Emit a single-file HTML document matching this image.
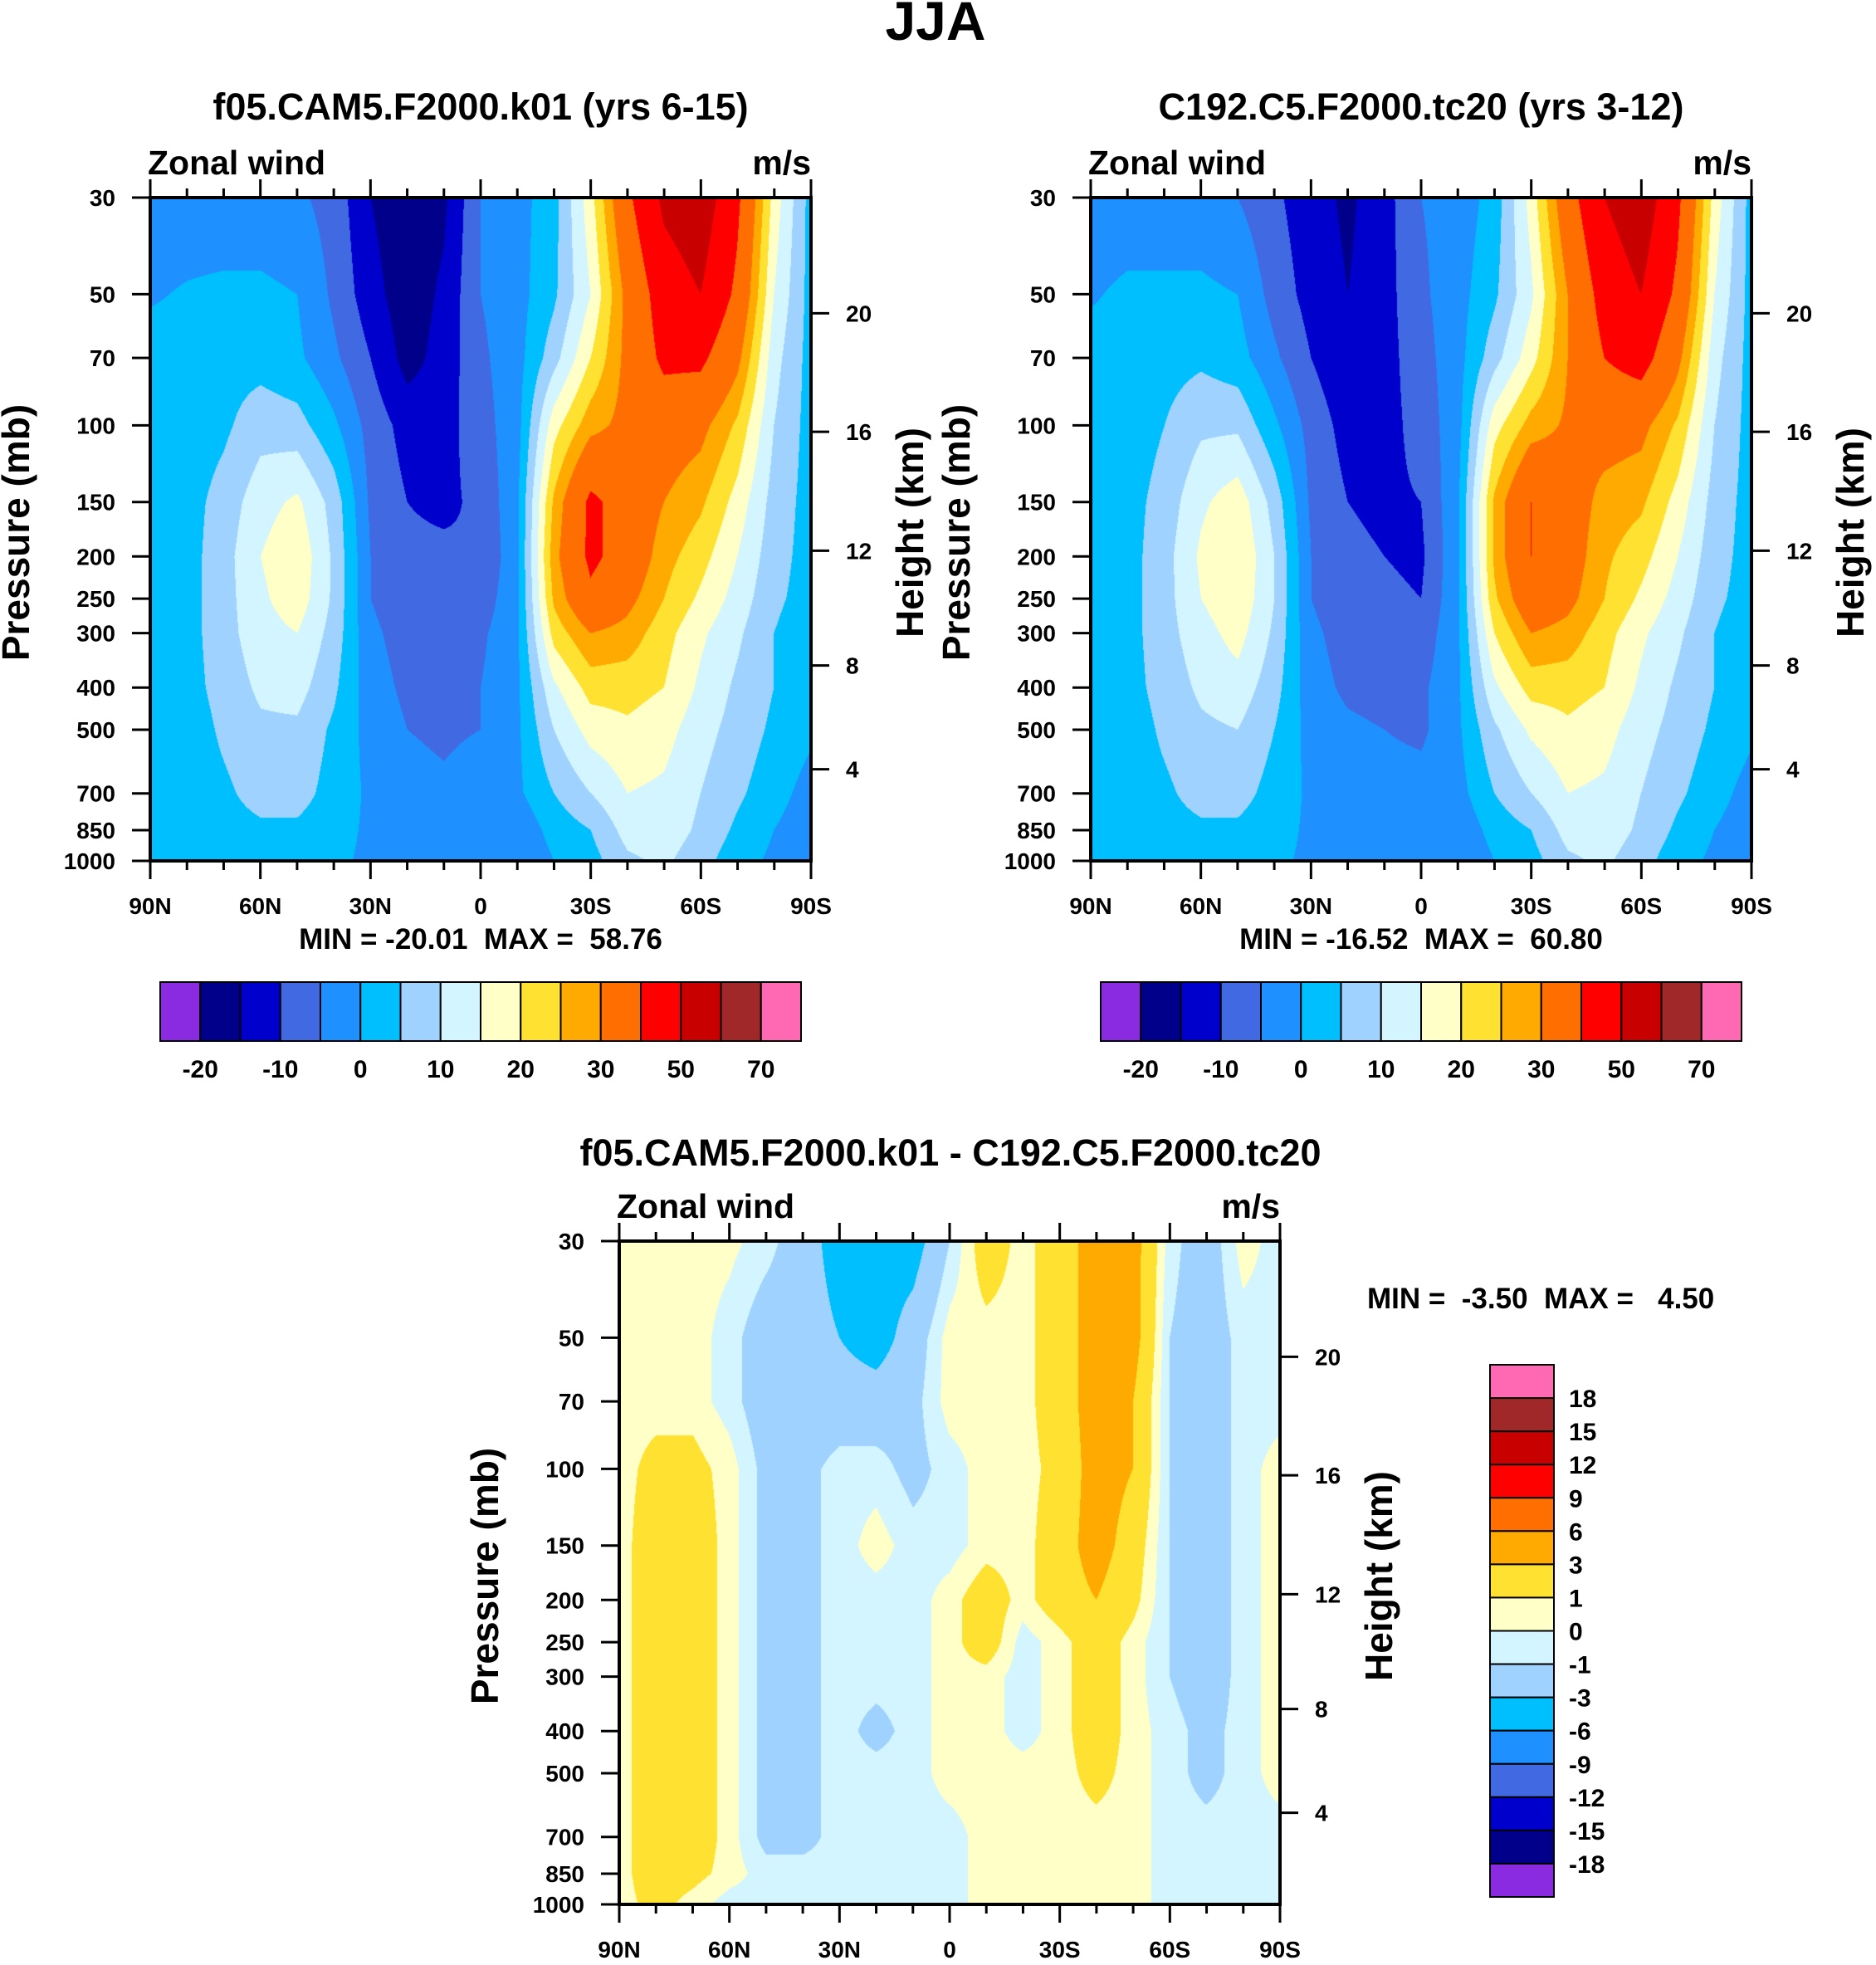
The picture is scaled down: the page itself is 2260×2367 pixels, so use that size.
<!DOCTYPE html>
<html><head><meta charset="utf-8">
<style>
html,body{margin:0;padding:0;background:#fff;}
#root{position:relative;width:2260px;height:2367px;overflow:hidden;font-family:"Liberation Sans",Arial,sans-serif;}
canvas{position:absolute;}
svg{position:absolute;left:0;top:0;}
text{font-family:"Liberation Sans",Arial,sans-serif;font-weight:bold;fill:#000;white-space:pre;}
</style></head>
<body>
<div id="root">
<canvas id="c1" style="left:181px;top:238px" width="796" height="799"></canvas>
<canvas id="c2" style="left:1314px;top:238px" width="796" height="799"></canvas>
<canvas id="c3" style="left:746px;top:1495px" width="796" height="799"></canvas>
<svg id="svg" width="2260" height="2367"></svg>
</div>
<script>
// ---- data ----
const lats = [90,80,70,60,50,40,30,20,10,0,-10,-20,-30,-40,-50,-60,-70,-80,-90];
const pLevels = [30,50,70,100,150,200,250,300,400,500,700,850,1000];
const pTicks = [30,50,70,100,150,200,250,300,400,500,700,850,1000];
const zTicks = [4,8,12,16,20];
const zTickP = [616,356,194,103.5,55.3];
const latTickLabels = ['90N','60N','30N','0','30S','60S','90S'];
const colors = ['#8a2be2','#00008b','#0000cd','#4169e1','#1e90ff','#00bfff','#a0d2ff','#d2f5ff','#ffffc8','#ffe132','#ffaa00','#ff6e00','#ff0000','#c80000','#a02828','#ff69b4'];
const levelsAbs = [-20,-15,-10,-5,0,5,10,15,20,25,30,40,50,60,70];
const levelsDiff = [-18,-15,-12,-9,-6,-3,-1,0,1,3,6,9,12,15,18];
const absBarLabels = ['-20','-10','0','10','20','30','50','70'];
const diffBarLabels = ['18','15','12','9','6','3','1','0','-1','-3','-6','-9','-12','-15','-18'];
const field1 = [
[-3,-3,-3,-3,-4,-7,-15,-19,-16,-5,-2,3,18,38,52,56,42,18,3],
[-0.5,0.5,1,1,0,-6,-13,-18,-14,-5,-2,4,15,32,45,50,38,15,3],
[2,2,3,3,1,-4,-10,-17,-13,-6,-2,8,20,32,42,42,32,12,3],
[2,2,4,8,7,1,-7,-12,-12,-7,-2,18,28,32,34,32,24,10,3],
[2,3,7,13,16,8,-6,-10,-11,-9,-1,26,42,36,30,26,18,8,3],
[3,3,8,15,19,9,-5,-9,-9,-10,-1,28,42,36,27,22,15,7,3],
[3,3,8,14,18,9,-5,-8,-8,-8,-1,26,38,32,25,19,13,6,3],
[3,3,8,13,15,8,-4,-7,-7,-6,-1,22,30,28,22,16,11,5,2],
[2,3,7,11,12,6,-3,-6,-7,-5,-1,14,22,22,20,14,9,5,2],
[2,2,6,9,9,4,-2,-5,-6,-5,-1,10,17,19,17,12,8,4,1],
[2,2,4,7,7,3,-1,-3,-4,-2,-1,5,10,15,14,10,6,2,-2],
[2,2,3,4,4,2,-1,-2,-3,-3,-4,2,5,12,13,9,4,0,-3],
[1,1,2,2,2,1,-1,-2,-2,-3,-5,0,3,9,11,7,2,-1,-3]];
const field2 = [
[-3,-3,-3,-3,-5,-9,-13,-16,-12,-5,-3,2,17,36,50,56,42,18,3],
[-0.5,1,1,1,0,-7,-12,-15,-12,-6,-2,4,14,30,44,50,38,15,3],
[2,2,3,4,2,-4,-10,-14,-12,-7,-2,8,18,30,40,44,32,12,3],
[2,2,5,9,9,1,-7,-12,-12,-8,-2,18,27,31,33,32,24,10,3],
[2,3,7,14,18,8,-6,-10,-11,-10,-1,26,40,34,28,26,18,8,3],
[3,3,8,16,20,10,-5,-9,-10,-11,-1,26,40,34,26,22,15,7,3],
[3,3,8,15,19,10,-5,-8,-9,-10,-1,24,36,32,25,19,13,6,3],
[3,3,8,13,17,9,-4,-7,-8,-8,-1,20,30,28,22,16,11,5,2],
[2,3,7,11,13,7,-3,-6,-7,-6,-1,14,22,22,20,14,9,5,2],
[2,2,6,9,10,5,-2,-4,-5,-6,-1,9,16,19,17,12,8,4,1],
[2,2,4,7,7,3,-1,-2,-3,-3,-2,5,10,15,14,10,6,2,-2],
[2,2,3,4,4,2,-1,-2,-2,-3,-4,2,5,12,13,9,4,0,-3],
[1,1,2,2,2,1,-1,-2,-2,-3,-5,0,3,9,11,7,2,-1,-3]];
const field3 = [
[0.5,0.5,0.5,0.3,-0.5,-2,-4,-4,-4,-1,2,0.5,2,4,4,-0.5,-2,0.5,-0.5],
[0.5,0.5,0.5,-0.5,-2,-2,-3,-4,-2,0.5,0.5,0.5,2,4,4,-1,-2,-0.5,-0.5],
[0.5,0.5,0.5,-0.5,-2,-2,-2,-2,-1.5,0.5,0.5,0.5,2,4,3,-1,-2,-0.5,-0.5],
[0.5,1.5,1.5,0.5,-1.5,-1.5,-0.5,-0.5,-1.5,-0.5,0.5,0.5,1.5,4,3,-1,-2,-0.5,0.5],
[0.5,2,2,0.5,-1.5,-1.5,-0.5,0.5,-0.5,-0.5,0.5,0.5,2,4,2,-1,-2,-0.5,0.5],
[0.5,2,2,0.5,-1.5,-1.5,-0.5,-0.5,-0.5,0.5,2,0.5,2,3,1.5,-1,-2,-0.5,0.5],
[0.5,2,2,0.5,-1.5,-1.5,-0.5,-0.5,-0.5,0.5,2,-0.5,0.5,2,0.5,-1,-2,-0.5,0.5],
[0.5,2,2,0.5,-1.5,-1.5,-0.5,-0.5,-0.5,0.5,0.5,-0.5,0.5,2,0.5,-1,-2,-0.5,0.5],
[0.5,2,2,0.5,-1.5,-1.5,-0.5,-1.5,-0.5,0.5,0.5,-0.5,0.5,2,0.5,-0.5,-1.5,-0.5,0.5],
[0.5,2,2,0.5,-1.5,-1.5,-0.5,-0.5,-0.5,0.5,0.5,0.5,0.5,1.5,0.5,-0.5,-1.5,-0.5,0.5],
[0.5,2,2,0.5,-1.5,-1.5,-0.5,-0.5,-0.5,-0.5,0.5,0.5,0.5,0.5,0.5,-0.5,-0.5,-0.5,-0.5],
[0.5,2,1.5,0.5,-0.5,-0.5,-0.5,-0.5,-0.5,-0.5,0.5,0.5,0.5,0.5,0.5,-0.5,-0.5,-0.5,-0.5],
[0.5,1.5,0.5,-0.5,-0.5,-0.5,-0.5,-0.5,-0.5,-0.5,0.5,0.5,0.5,0.5,0.5,-0.5,-0.5,-0.5,-0.5]];

// ---- helpers ----
const NS='http://www.w3.org/2000/svg';
const svg=document.getElementById('svg');
function mk(tag,attrs,txt){const e=document.createElementNS(NS,tag);for(const k in attrs)e.setAttribute(k,attrs[k]);if(txt!==undefined)e.textContent=txt;svg.appendChild(e);return e;}
function hex(c){return [parseInt(c.substr(1,2),16),parseInt(c.substr(3,2),16),parseInt(c.substr(5,2),16)];}
const rgb=colors.map(hex);
function colorIdx(v,lev){let i=0;while(i<lev.length&&v>=lev[i])i++;return i;}
const L0=Math.log(30),L1=Math.log(1000);
const logP=pLevels.map(Math.log);
function sample(f,latF,lp){
  let xi=Math.min(17,Math.floor(latF));let tx=latF-xi;
  let yi=0;while(yi<logP.length-2&&lp>logP[yi+1])yi++;
  let ty=(lp-logP[yi])/(logP[yi+1]-logP[yi]);ty=Math.max(0,Math.min(1,ty));
  const a=f[yi][xi],b=f[yi][xi+1],c=f[yi+1][xi],d=f[yi+1][xi+1];
  return (a*(1-tx)+b*tx)*(1-ty)+(c*(1-tx)+d*tx)*ty;
}
function fill(id,f,lev){
  const cv=document.getElementById(id),ctx=cv.getContext('2d');
  const w=cv.width,h=cv.height,img=ctx.createImageData(w,h);
  for(let y=0;y<h;y++){const lp=L0+(y/(h-1))*(L1-L0);
    for(let x=0;x<w;x++){const v=sample(f,x/(w-1)*18,lp);const c=rgb[colorIdx(v,lev)];const o=(y*w+x)*4;
      img.data[o]=c[0];img.data[o+1]=c[1];img.data[o+2]=c[2];img.data[o+3]=255;}}
  ctx.putImageData(img,0,0);
}
function panel(x0,y0,w,h,name){
  const yOf=p=>y0+(Math.log(p)-L0)/(L1-L0)*h;
  const xOf=lat=>x0+(90-lat)/180*w;
  mk('rect',{x:x0,y:y0,width:w,height:h,fill:'none',stroke:'#000','stroke-width':4,});
  pTicks.forEach(p=>{const y=yOf(p);
    mk('line',{x1:x0-22,x2:x0,y1:y,y2:y,stroke:'#000','stroke-width':3,});
    mk('text',{x:x0-42,y:y+10,'font-size':28,'text-anchor':'end',},String(p));});
  zTicks.forEach((z,i)=>{const y=yOf(zTickP[i]);
    mk('line',{x1:x0+w,x2:x0+w+22,y1:y,y2:y,stroke:'#000','stroke-width':3,});
    mk('text',{x:x0+w+42,y:y+10,'font-size':28,},String(z));});
  for(let lat=90;lat>=-90;lat-=10){const x=xOf(lat);const major=lat%30===0;const L=major?22:11;
    mk('line',{x1:x,x2:x,y1:y0+h,y2:y0+h+L,stroke:'#000','stroke-width':3,});
    mk('line',{x1:x,x2:x,y1:y0,y2:y0-L,stroke:'#000','stroke-width':3,});}
  latTickLabels.forEach((t,i)=>{mk('text',{x:x0+i*w/6,y:y0+h+64,'font-size':28,'text-anchor':'middle',},t);});
  mk('text',{x:x0-3,y:y0-28,'font-size':41,},'Zonal wind');
  mk('text',{x:x0+w,y:y0-28,'font-size':41,'text-anchor':'end',},'m/s');
  const cy=y0+h/2+4;
  mk('text',{x:0,y:0,'font-size':46,'text-anchor':'middle',transform:`translate(${x0-146},${cy}) rotate(-90)`,},'Pressure (mb)');
  mk('text',{x:0,y:0,'font-size':46,'text-anchor':'middle',transform:`translate(${x0+w+135},${cy}) rotate(-90)`,},'Height (km)');
}
function hbar(x0,y0,w,h,name){
  const bw=w/colors.length;
  colors.forEach((c,i)=>{mk('rect',{x:x0+i*bw,y:y0,width:bw,height:h,fill:c,stroke:'#000','stroke-width':2,});});
  absBarLabels.forEach((t,i)=>{mk('text',{x:x0+(1+2*i)*bw,y:y0+h+44,'font-size':30,'text-anchor':'middle',},t);});
}
function vbar(x0,y0,w,h,name){
  const bh=h/colors.length;
  colors.slice().reverse().forEach((c,i)=>{mk('rect',{x:x0,y:y0+i*bh,width:w,height:bh,fill:c,stroke:'#000','stroke-width':2,});});
  diffBarLabels.forEach((t,i)=>{mk('text',{x:x0+w+18,y:y0+(i+1)*bh+11,'font-size':30,},t);});
}

fill('c1',field1,levelsAbs);
fill('c2',field2,levelsAbs);
fill('c3',field3,levelsDiff);

mk('text',{x:1127,y:48,'font-size':66,'text-anchor':'middle',},'JJA');
mk('text',{x:579,y:144,'font-size':45,'text-anchor':'middle',},'f05.CAM5.F2000.k01 (yrs 6-15)');
mk('text',{x:1712,y:144,'font-size':45,'text-anchor':'middle',},'C192.C5.F2000.tc20 (yrs 3-12)');
mk('text',{x:1145,y:1404,'font-size':45,'text-anchor':'middle',},'f05.CAM5.F2000.k01 - C192.C5.F2000.tc20');

panel(181,238,796,799,'panel1');
panel(1314,238,796,799,'panel2');
panel(746,1495,796,799,'panel3');

mk('text',{x:579,y:1143,'font-size':35,'text-anchor':'middle',},'MIN = -20.01  MAX =  58.76');
mk('text',{x:1712,y:1143,'font-size':35,'text-anchor':'middle',},'MIN = -16.52  MAX =  60.80');
mk('text',{x:1647,y:1576,'font-size':35,},'MIN =  -3.50  MAX =   4.50');

hbar(193,1183,772,71,'colorbar1');
hbar(1326,1183,772,71,'colorbar2');
vbar(1795,1644,77,641,'colorbar3');
</script>
</body></html>
